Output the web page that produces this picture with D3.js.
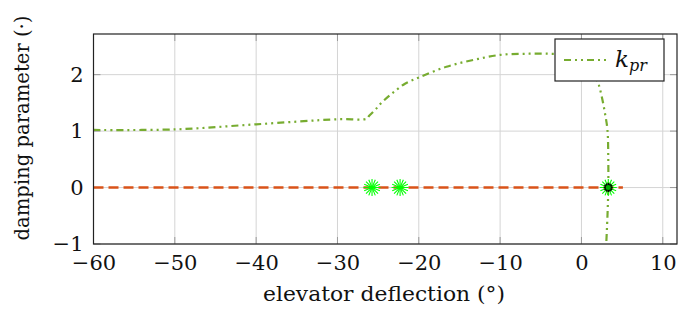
<!DOCTYPE html>
<html><head><meta charset="utf-8">
<script src="https://cdn.jsdelivr.net/npm/d3@7"></script>
<style>body{margin:0;background:#fff} svg text{font-family:"DejaVu Serif","Liberation Serif","Times New Roman",serif;}</style>
</head><body>
<svg id="c" width="680" height="320"></svg>
<script>
// data
const kprX = [-60, -50, -40, -30, -26.4, -26.1, -25.4, -24.6, -23.6, -22.9, -21.7, -19.8, -16.6, -13.3, -10, -6.7, -3.9, -2, 0, 1, 1.6, 2.09, 2.5, 2.9, 3.2, 3.3, 3.3, 3.2, 3.05];
const kprY = [1.02, 1.03, 1.12, 1.21, 1.22, 1.27, 1.37, 1.50, 1.63, 1.71, 1.84, 1.96, 2.14, 2.26, 2.35, 2.37, 2.37, 2.36, 2.3, 2.15, 2.0, 1.84, 1.61, 1.31, 1.02, 0.5, 0, -0.5, -1];
const zeroX = [-60, 5.1];
const zeroY = [0, 0];
const markX = [-25.75, -22.3, 3.3];
const markY = [0, 0, 0];
const blackX = [3.3];
const blackY = [0];
const xTicks = [-60, -50, -40, -30, -20, -10, 0, 10];
const yTicks = [-1, 0, 1, 2];

const svg = d3.select("#c");
const L = 93.5, R = 677, T = 34, B = 244;
const x = d3.scaleLinear().domain([-60, 11.75]).range([L, R]);
const y = d3.scaleLinear().domain([-1, 2.72]).range([B, T]);
const font = "DejaVu Serif";
const fmt = d => (d < 0 ? "\u2212" + Math.abs(d) : "" + d);

// grid
const g = svg.append("g");
g.selectAll(".gx").data(xTicks).join("line")
  .attr("x1", d => x(d)).attr("x2", d => x(d)).attr("y1", T).attr("y2", B)
  .attr("stroke", "#d4d4d4").attr("stroke-width", 1);
g.selectAll(".gy").data(yTicks).join("line")
  .attr("x1", L).attr("x2", R).attr("y1", d => y(d)).attr("y2", d => y(d))
  .attr("stroke", "#d4d4d4").attr("stroke-width", 1);

// ticks inward on all sides
const tk = svg.append("g").attr("stroke", "#9a9a9a").attr("stroke-width", 1);
xTicks.forEach(d => {
  tk.append("line").attr("x1", x(d)).attr("x2", x(d)).attr("y1", B).attr("y2", B - 7);
  tk.append("line").attr("x1", x(d)).attr("x2", x(d)).attr("y1", T).attr("y2", T + 7);
});
yTicks.forEach(d => {
  tk.append("line").attr("x1", L).attr("x2", L + 7).attr("y1", y(d)).attr("y2", y(d));
  tk.append("line").attr("x1", R).attr("x2", R - 7).attr("y1", y(d)).attr("y2", y(d));
});

// axes labels via d3 axes
const xa = svg.append("g").attr("transform", `translate(0,${B})`)
  .call(d3.axisBottom(x).tickValues(xTicks).tickFormat(fmt).tickSize(0).tickPadding(11));
const ya = svg.append("g").attr("transform", `translate(${L},0)`)
  .call(d3.axisLeft(y).tickValues(yTicks).tickFormat(fmt).tickSize(0).tickPadding(10));
[xa, ya].forEach(a => {
  a.attr("font-family", null);
  a.select(".domain").remove();
  a.selectAll("text").attr("font-family", font).attr("font-size", 21).attr("fill", "#111");
});

// clip
svg.append("clipPath").attr("id", "clip").append("rect")
  .attr("x", L).attr("y", T).attr("width", R - L).attr("height", B - T);
const plot = svg.append("g").attr("clip-path", "url(#clip)");

const line = d3.line().x(d => x(d[0])).y(d => y(d[1]));

// orange zero line
plot.append("path").datum(zeroX.map((v, i) => [v, zeroY[i]]))
  .attr("d", line).attr("fill", "none").attr("stroke", "#d95319")
  .attr("stroke-width", 2.4).attr("stroke-dasharray", "10,5");

// green k_pr line
plot.append("path").datum(kprX.map((v, i) => [v, kprY[i]]))
  .attr("d", d3.line().x(d => x(d[0])).y(d => y(d[1])).curve(d3.curveCatmullRom))
  .attr("fill", "none").attr("stroke", "#77ac30")
  .attr("stroke-width", 2.2).attr("stroke-dasharray", "7,4,2,4,2,4");

// asterisk markers
function asterisk(sel, cx, cy, r, color, w, n) {
  for (let k = 0; k < n; k++) {
    const a = k * Math.PI / n;
    sel.append("line")
      .attr("x1", cx - r * Math.cos(a)).attr("y1", cy - r * Math.sin(a))
      .attr("x2", cx + r * Math.cos(a)).attr("y2", cy + r * Math.sin(a))
      .attr("stroke", color).attr("stroke-width", w);
  }
}
const mk = plot.append("g");
markX.forEach((v, i) => asterisk(mk, x(v), y(markY[i]), 8.5, "#00ff00", 1.1, 8));
blackX.forEach((v, i) => {
  asterisk(mk, x(v), y(blackY[i]), 4.5, "#000", 1.6, 6);
  mk.append("circle").attr("cx", x(v)).attr("cy", y(blackY[i])).attr("r", 2.5).attr("fill", "#00b000");
});

// frame
svg.append("rect").attr("x", L).attr("y", T).attr("width", R - L).attr("height", B - T)
  .attr("fill", "none").attr("stroke", "#222").attr("stroke-width", 1.2);

// legend
const lg = svg.append("g");
lg.append("rect").attr("x", 555).attr("y", 39).attr("width", 109).attr("height", 42)
  .attr("fill", "#fff").attr("stroke", "#222").attr("stroke-width", 1.2);
lg.append("line").attr("x1", 564).attr("x2", 608).attr("y1", 60).attr("y2", 60)
  .attr("stroke", "#77ac30").attr("stroke-width", 2.2).attr("stroke-dasharray", "7,4,2,4,2,4");
const lt = lg.append("text").attr("x", 615).attr("y", 67).attr("font-family", font)
  .attr("font-size", 23).attr("font-style", "italic").attr("fill", "#111");
lt.append("tspan").text("k");
lt.append("tspan").attr("font-size", 16).attr("dy", 4).text("pr");

// axis titles
svg.append("text").attr("x", 384).attr("y", 301).attr("text-anchor", "middle")
  .attr("font-family", font).attr("font-size", 20).attr("fill", "#111")
  .attr("textLength", 242).attr("lengthAdjust", "spacingAndGlyphs")
  .text("elevator deflection (°)");
svg.append("text").attr("transform", `translate(29,128) rotate(-90)`)
  .attr("text-anchor", "middle").attr("font-family", font).attr("font-size", 20).attr("fill", "#111")
  .attr("textLength", 225).attr("lengthAdjust", "spacingAndGlyphs")
  .text("damping parameter (·)");
</script>
</body></html>
